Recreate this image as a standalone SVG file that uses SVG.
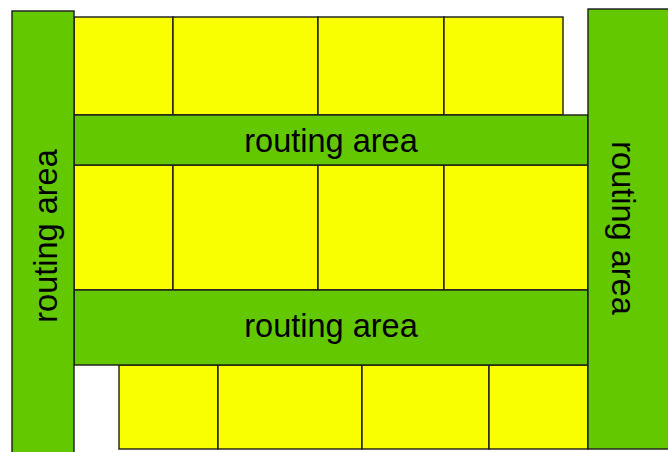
<svg xmlns="http://www.w3.org/2000/svg" width="668" height="452" viewBox="0 0 668 452">
<style>
.cell{fill:#FAFF00;stroke:#1a1a1a;stroke-width:1.4}
.route{fill:#63C800;stroke:#1a1a1a;stroke-width:1.4}
.lbl{font-family:"Liberation Sans",Arial,sans-serif;font-size:32.5px;fill:#000}
</style>
<g id="top-row">
<rect class="cell" x="74" y="17" width="99" height="98"/>
<rect class="cell" x="173" y="17" width="145" height="98"/>
<rect class="cell" x="318" y="17" width="126" height="98"/>
<rect class="cell" x="444" y="17" width="119" height="98"/>
</g>
<g id="middle-row">
<rect class="cell" x="74" y="165" width="99" height="125"/>
<rect class="cell" x="173" y="165" width="145" height="125"/>
<rect class="cell" x="318" y="165" width="126" height="125"/>
<rect class="cell" x="444" y="165" width="144" height="125"/>
</g>
<g id="bottom-row">
<rect class="cell" x="119" y="365" width="99" height="84"/>
<rect class="cell" x="218" y="365" width="144" height="84"/>
<rect class="cell" x="362" y="365" width="127" height="84"/>
<rect class="cell" x="489" y="365" width="99" height="84"/>
</g>
<g id="routing-top">
<rect class="route" x="74" y="115" width="514" height="50"/>
<text class="lbl" x="331" y="152" text-anchor="middle">routing area</text>
</g>
<g id="routing-bottom">
<rect class="route" x="74" y="290" width="514" height="75"/>
<text class="lbl" x="331" y="337" text-anchor="middle">routing area</text>
</g>
<g id="routing-left">
<rect class="route" x="12" y="11" width="62" height="450"/>
<text class="lbl" transform="translate(57,236) rotate(-90)" x="0" y="0" text-anchor="middle">routing area</text>
</g>
<g id="routing-right">
<rect class="route" x="588" y="9" width="90" height="440"/>
<text class="lbl" transform="translate(612,228) rotate(90)" x="0" y="0" text-anchor="middle">routing area</text>
</g>
<g id="connectors"/>
</svg>
